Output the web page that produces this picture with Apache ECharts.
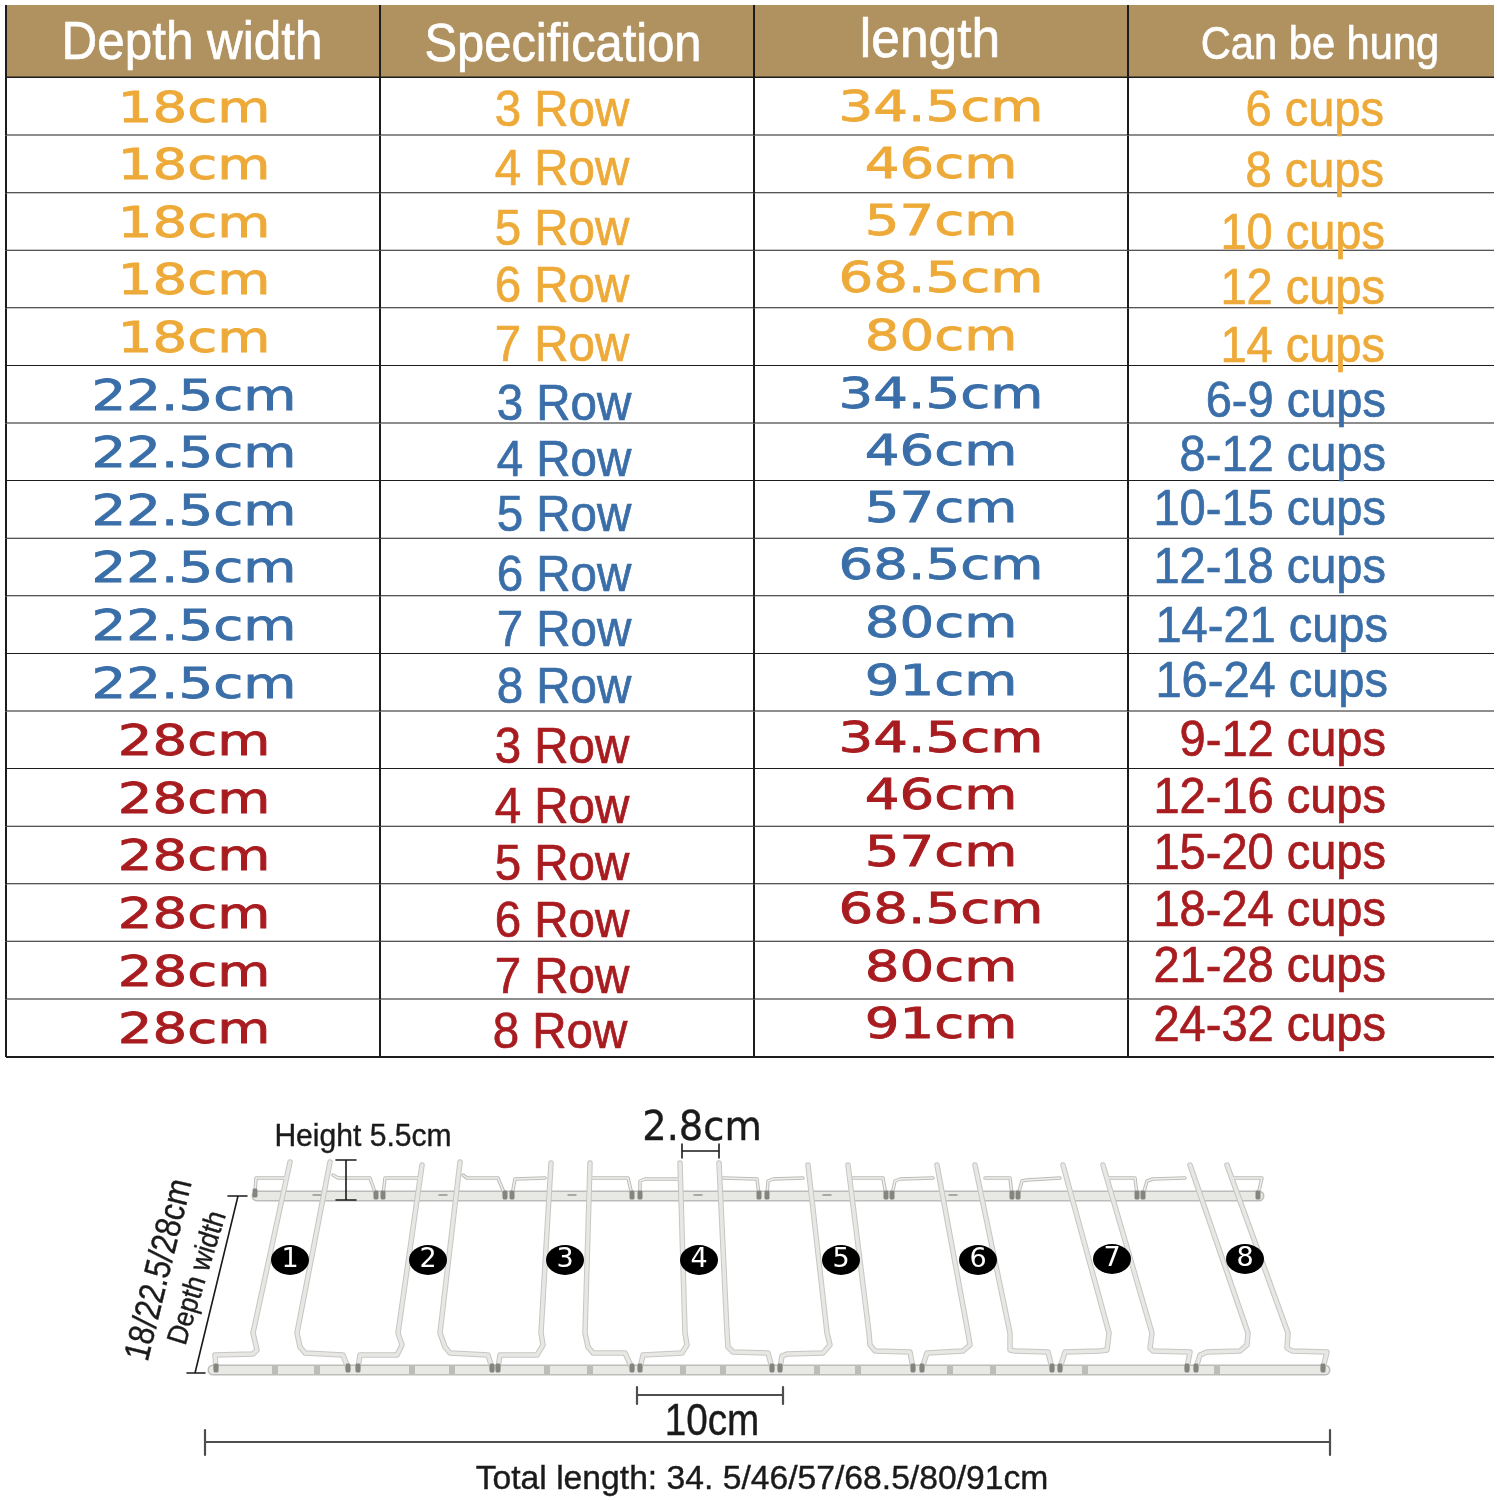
<!DOCTYPE html>
<html>
<head>
<meta charset="utf-8">
<title>Rack sizes</title>
<script src="https://cdn.jsdelivr.net/npm/echarts@6/dist/echarts.min.js"></script>
<style>
  html, body { margin: 0; background: #fff; }
  #main { width: 1497px; height: 1500px; }
</style>
</head>
<body>
<div id="main"></div>
<script>
// table contents
const headers = ['Depth width', 'Specification', 'length', 'Can be hung'];
const depths = ['18cm', '18cm', '18cm', '18cm', '18cm',
  '22.5cm', '22.5cm', '22.5cm', '22.5cm', '22.5cm', '22.5cm',
  '28cm', '28cm', '28cm', '28cm', '28cm', '28cm'];
const specs = ['3 Row', '4 Row', '5 Row', '6 Row', '7 Row',
  '3 Row', '4 Row', '5 Row', '6 Row', '7 Row', '8 Row',
  '3 Row', '4 Row', '5 Row', '6 Row', '7 Row', '8 Row'];
const lengths = ['34.5cm', '46cm', '57cm', '68.5cm', '80cm',
  '34.5cm', '46cm', '57cm', '68.5cm', '80cm', '91cm',
  '34.5cm', '46cm', '57cm', '68.5cm', '80cm', '91cm'];
const cups = ['6 cups', '8 cups', '10 cups', '12 cups', '14 cups',
  '6-9 cups', '8-12 cups', '10-15 cups', '12-18 cups', '14-21 cups', '16-24 cups',
  '9-12 cups', '12-16 cups', '15-20 cups', '18-24 cups', '21-28 cups', '24-32 cups'];

// rack drawing
const bars = [
  [[257, 1196], [1259, 1196]],
  [[213, 1370], [1325, 1370]]
];
const wires = [
  [[290, 1162], [253, 1333], [257, 1350], [253, 1354], [215, 1355], [216, 1368]],
  [[330, 1162], [297, 1333], [300, 1347], [305, 1353], [343, 1355], [348, 1368]],
  [[422, 1165], [398, 1333], [402, 1345], [397, 1355], [360, 1355], [358, 1368]],
  [[460, 1162], [440, 1333], [445, 1347], [450, 1353], [488, 1355], [492, 1368]],
  [[551, 1163], [541, 1333], [543, 1345], [537, 1355], [500, 1355], [498, 1368]],
  [[590, 1163], [585, 1333], [588, 1347], [593, 1353], [625, 1353], [632, 1368]],
  [[680, 1163], [685, 1333], [687, 1345], [682, 1353], [643, 1355], [640, 1368]],
  [[719, 1163], [727, 1333], [728, 1347], [733, 1352], [768, 1353], [772, 1368]],
  [[808, 1165], [827, 1333], [830, 1345], [823, 1353], [787, 1354], [782, 1356], [780, 1368]],
  [[848, 1165], [869, 1333], [870, 1345], [875, 1351], [910, 1352], [913, 1368]],
  [[937, 1165], [968, 1333], [970, 1345], [963, 1351], [927, 1353], [922, 1368]],
  [[975, 1165], [1010, 1333], [1010, 1350], [1015, 1351], [1048, 1352], [1052, 1368]],
  [[1063, 1165], [1109, 1333], [1107, 1350], [1100, 1351], [1065, 1352], [1060, 1368]],
  [[1103, 1165], [1152, 1333], [1150, 1348], [1153, 1351], [1190, 1352], [1187, 1368]],
  [[1190, 1165], [1248, 1333], [1247, 1345], [1240, 1351], [1207, 1352], [1200, 1355], [1196, 1368]],
  [[1227, 1165], [1288, 1333], [1287, 1348], [1292, 1351], [1327, 1352], [1323, 1368]]
];
const hooks = [
  [[285, 1178], [256, 1178], [255, 1193]],
  [[333, 1175], [338, 1178], [370, 1178], [376, 1195]],
  [[420, 1178], [385, 1178], [383, 1195]],
  [[463, 1175], [467, 1178], [498, 1178], [505, 1195]],
  [[545, 1178], [515, 1179], [512, 1195]],
  [[592, 1178], [628, 1178], [632, 1195]],
  [[678, 1179], [645, 1179], [640, 1181], [640, 1195]],
  [[723, 1178], [757, 1179], [759, 1195]],
  [[803, 1178], [773, 1179], [768, 1181], [767, 1195]],
  [[853, 1178], [883, 1178], [886, 1195]],
  [[933, 1178], [900, 1179], [895, 1181], [892, 1195]],
  [[985, 1178], [1010, 1178], [1012, 1195]],
  [[1060, 1178], [1027, 1180], [1022, 1181], [1018, 1195]],
  [[1108, 1178], [1135, 1178], [1137, 1195]],
  [[1185, 1178], [1153, 1179], [1147, 1181], [1143, 1195]],
  [[1233, 1178], [1262, 1178], [1258, 1195]]
];
const barStamps = [[275, 1370], [317, 1370], [412, 1370], [452, 1370], [547, 1370], [590, 1370], [683, 1370], [723, 1370],
  [817, 1370], [858, 1370], [950, 1370], [993, 1370], [1085, 1370], [1217, 1370]];
const barDots = [[317, 1195], [443, 1195], [572, 1195], [698, 1195], [827, 1195], [953, 1195]];
const railNumbers = ['1', '2', '3', '4', '5', '6', '7', '8'];
const railNumberPoints = [[290, 1260], [428, 1260], [565, 1260], [699, 1260], [841, 1260], [978, 1260], [1112, 1259], [1245, 1259]];

// dimension lines
const dimensions = [
  [[238, 1196], [195, 1373]], [[228, 1196], [247, 1196]], [[187, 1373], [205, 1373]],
  [[346, 1160], [346, 1200]], [[336, 1160], [356, 1160]], [[336, 1200], [356, 1200]],
  [[682, 1151], [719, 1151]], [[682, 1144], [682, 1158]], [[719, 1144], [719, 1158]]
];
const heavyDimensions = [
  [[637, 1395], [783, 1395]], [[637, 1387], [637, 1404]], [[783, 1387], [783, 1404]],
  [[205, 1442], [1330, 1442]], [[205, 1430], [205, 1455]], [[1330, 1430], [1330, 1455]]
];
const notes = ['Height 5.5cm', '2.8cm', '10cm', 'Total length: 34. 5/46/57/68.5/80/91cm', '18/22.5/28cm', 'Depth width'];
const notePoints = [[363, 1137], [702, 1130], [712, 1423], [762, 1480], [160, 1270], [198, 1278]];

// layout of the text, which drifts from row to row in the picture
const columnEdges = [6, 380, 754, 1128, 1494];
const specDy = [5, 7, 9, 9, 10, 11, 10, 7, 10, 7, 7, 9, 11, 11, 10, 9, 6];
const lengthDy = [3, 3, 2, 2, 2, 2, 2, 1, 1, 1, 1, 1, 0, 0, -1, -1, -1];
const cupsDy = [5, 9, 13, 11, 11, 8, 5, 1, 2, 3, 1, 2, 1, 0, -1, -2, -1];
const cupsRight = [1384, 1384, 1385, 1385, 1385, 1386, 1386, 1386, 1386, 1388, 1388, 1386, 1386, 1386, 1386, 1386, 1386];
const specX = [562, 562, 562, 562, 562, 564, 564, 564, 564, 564, 564, 562, 562, 562, 562, 562, 560];
const headerStyle = [
  { x: 192, y: 44, size: 54, scale: 0.915 },
  { x: 563, y: 46, size: 54, scale: 0.905 },
  { x: 930, y: 42, size: 56, scale: 0.92 },
  { x: 1320, y: 46, size: 46, scale: 0.905 }
];
const noteStyle = [
  { size: 32, scale: 0.94, family: 'Liberation Sans', rot: 0 },
  { size: 40, scale: 0.96, family: 'DejaVu Sans', rot: 0 },
  { size: 44, scale: 0.88, family: 'Liberation Sans', rot: 0 },
  { size: 34, scale: 0.99, family: 'Liberation Sans', rot: 0 },
  { size: 36, scale: 0.85, family: 'Liberation Sans', rot: 1.33 },
  { size: 29, scale: 0.9, family: 'Liberation Sans', rot: 1.27 }
];
const ORANGE = '#eeaa38', BLUE = '#3a6ea8', RED = '#a81c20', INK = '#1c1c1c';
const rowColor = i => (i < 5 ? ORANGE : i < 11 ? BLUE : RED);

const rowIds = depths.map((d, i) => i);

function renderCell(params, api) {
  const col = api.value(0), row = api.value(1);
  const c = api.coord([columnEdges[col], row]);
  const r = api.coord([columnEdges[col + 1], row]);
  const h = api.size([0, 1])[1];
  const top = c[1] - h / 2, bottom = top + h;
  const isHead = params.seriesName === 'head';
  const children = [{
    type: 'rect',
    shape: { x: c[0], y: top, width: r[0] - c[0], height: h },
    style: { fill: isHead ? '#b09160' : '#fff' }
  }, {
    type: 'line',
    shape: { x1: c[0], y1: top, x2: c[0], y2: bottom },
    style: { stroke: INK, lineWidth: 2 }
  }, {
    type: 'line',
    shape: { x1: c[0], y1: bottom, x2: r[0], y2: bottom },
    style: { stroke: INK, lineWidth: isHead ? 3 : 2 }
  }];
  return { type: 'group', children };
}

function textEl(x, y, text, font, fill, align, scaleX, rotation, weight) {
  return {
    type: 'text', x, y, rotation: rotation || 0, scaleX: scaleX || 1,
    style: {
      text, font, fill, align: align || 'center', verticalAlign: 'middle',
      stroke: weight ? fill : null, lineWidth: weight || 0
    }
  };
}

function renderHeaderText(params, api) {
  const s = headerStyle[params.dataIndex];
  const p = api.coord([s.x, 0]);
  return textEl(p[0], s.y, headers[params.dataIndex], s.size + 'px "Liberation Sans"', '#fff', 'center', s.scale, 0, 0.7);
}

function renderBodyText(params, api) {
  const col = api.value(0), row = api.value(1);
  const wideFont = '42px "DejaVu Sans"', tallFont = '50px "Liberation Sans"';
  const fill = rowColor(row);
  if (col === 0) {
    const p = api.coord([194, row]);
    return textEl(p[0], p[1] + 4, depths[row], wideFont, fill, 'center', 1.3, 0, 0.8);
  }
  if (col === 1) {
    const p = api.coord([specX[row], row]);
    return textEl(p[0], p[1] + specDy[row], specs[row], tallFont, fill, 'center', 0.95, 0, 0.7);
  }
  if (col === 2) {
    const p = api.coord([941, row]);
    return textEl(p[0], p[1] + lengthDy[row], lengths[row], wideFont, fill, 'center', 1.3, 0, 0.8);
  }
  const p = api.coord([cupsRight[row], row]);
  return textEl(p[0], p[1] + cupsDy[row], cups[row], tallFont, fill, 'right', 0.94, 0, 0.7);
}

function renderNote(params, api) {
  const s = noteStyle[params.dataIndex];
  const p = api.coord([api.value(0), api.value(1)]);
  return textEl(p[0], p[1], notes[params.dataIndex], s.size + 'px "' + s.family + '"', '#1a1a1a', 'center', s.scale, s.rot, 0.4);
}

// polylines go in one line series with gaps between them
function joined(paths) {
  const out = [];
  paths.forEach(p => { out.push(...p, ['-', '-']); });
  return out;
}

function pathSeries(paths, color, width, z) {
  return {
    type: 'line', xAxisIndex: 2, yAxisIndex: 2, data: joined(paths), showSymbol: false, symbol: 'none',
    connectNulls: false, silent: true, z,
    lineStyle: { color, width, cap: 'round', join: 'round', opacity: 1 }
  };
}

const bodyCells = [];
rowIds.forEach(r => { [0, 1, 2, 3].forEach(c => { bodyCells.push([c, r]); }); });

const hiddenX = i => ({ type: 'value', gridIndex: i, min: 0, max: 1497, show: false });

const option = {
  backgroundColor: '#fff',
  animation: false,
  grid: [
    { left: 0, right: 0, top: 5, height: 73 },
    { left: 0, right: 0, top: 78, height: 979 },
    { left: 0, right: 0, top: 0, bottom: 0 }
  ],
  xAxis: [hiddenX(0), hiddenX(1), hiddenX(2)],
  yAxis: [
    { type: 'category', gridIndex: 0, data: ['head'], show: false },
    { type: 'category', gridIndex: 1, data: rowIds, inverse: true, show: false },
    { type: 'value', gridIndex: 2, min: 0, max: 1500, inverse: true, show: false }
  ],
  series: [
    { type: 'custom', name: 'head', xAxisIndex: 0, yAxisIndex: 0, silent: true, z: 1,
      data: [[0, 0], [1, 0], [2, 0], [3, 0]], renderItem: renderCell },
    { type: 'custom', name: 'body', xAxisIndex: 1, yAxisIndex: 1, silent: true, z: 1,
      data: bodyCells, renderItem: renderCell },
    { type: 'custom', name: 'headText', xAxisIndex: 0, yAxisIndex: 0, silent: true, z: 5,
      data: [[0, 0], [1, 0], [2, 0], [3, 0]], renderItem: renderHeaderText },
    { type: 'custom', name: 'bodyText', xAxisIndex: 1, yAxisIndex: 1, silent: true, z: 5,
      data: bodyCells, renderItem: renderBodyText },

    pathSeries(bars, '#bcbcba', 11, 2),
    pathSeries(bars, '#e8e8e5', 8, 3),
    { type: 'scatter', xAxisIndex: 2, yAxisIndex: 2, silent: true, z: 3, data: barStamps,
      symbol: 'rect', symbolSize: [6, 9], itemStyle: { color: '#bcbcba', opacity: 1 } },
    { type: 'scatter', xAxisIndex: 2, yAxisIndex: 2, silent: true, z: 3, data: barDots,
      symbol: 'rect', symbolSize: [9, 2], itemStyle: { color: '#a8a8a6', opacity: 1 } },
    pathSeries(hooks, '#bcbcba', 3.5, 4),
    pathSeries(wires, '#c6c6c4', 5.5, 4),
    pathSeries(hooks, '#f0efec', 1.5, 4),
    pathSeries(wires, '#e8e7e4', 3.5, 4),
    { type: 'scatter', xAxisIndex: 2, yAxisIndex: 2, silent: true, z: 4,
      data: wires.concat(hooks).map(w => w[w.length - 1]),
      symbol: 'roundRect', symbolSize: [5, 9], itemStyle: { color: '#85857f', opacity: 1 } },

    pathSeries(dimensions, '#1a1a1a', 1.6, 4),
    pathSeries(heavyDimensions, '#4e4e4e', 2.2, 4),
    { type: 'scatter', xAxisIndex: 2, yAxisIndex: 2, silent: true, z: 5,
      data: railNumberPoints.map((p, i) => ({ value: p, name: railNumbers[i] })),
      symbol: 'circle', symbolSize: [38, 30], itemStyle: { color: '#000', opacity: 1 },
      label: { show: true, position: 'inside', formatter: '{b}', color: '#fff', fontSize: 27, fontFamily: 'DejaVu Sans' } },
    { type: 'custom', name: 'notes', xAxisIndex: 2, yAxisIndex: 2, silent: true, z: 6,
      data: notePoints, renderItem: renderNote }
  ]
};

const chart = echarts.init(document.getElementById('main'));
chart.setOption(option);
</script>
</body>
</html>
